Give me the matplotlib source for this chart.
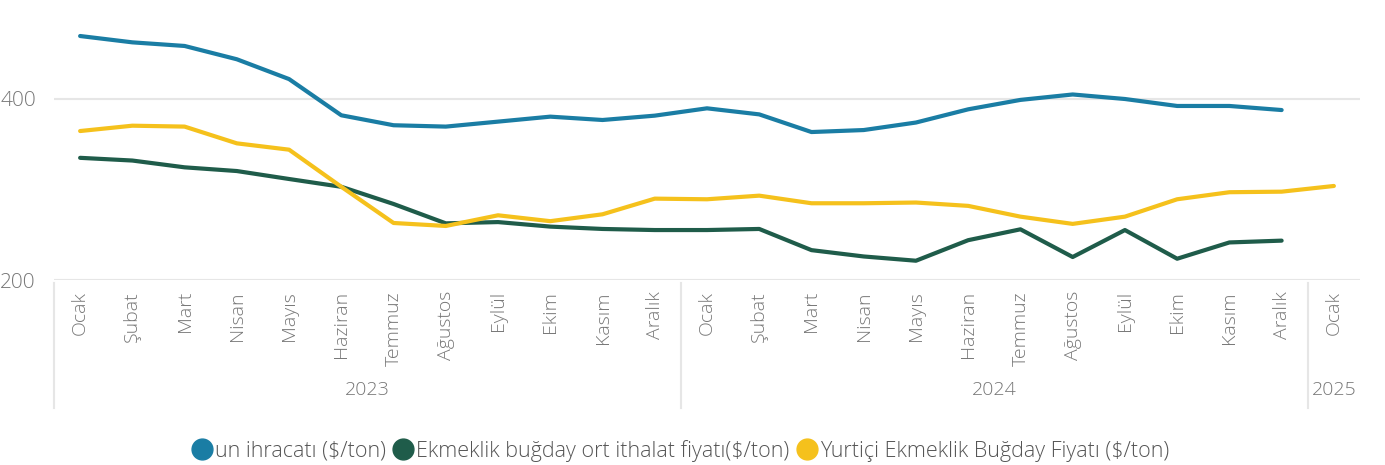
import matplotlib.pyplot as plt
from matplotlib.lines import Line2D
from matplotlib.transforms import blended_transform_factory

months = ["Ocak", "Şubat", "Mart", "Nisan", "Mayıs", "Haziran", "Temmuz",
          "Ağustos", "Eylül", "Ekim", "Kasım", "Aralık"]
tick_labels = months + months + ["Ocak"]
years = ["2023", "2024", "2025"]
year_counts = [12, 12, 1]

un_ihracati = [469.6, 462.6, 458.6, 443.9, 422.0, 382.0, 371.0, 369.5, 375.0, 380.5, 376.8, 381.6,
               389.7, 383.0, 363.5, 365.7, 374.0, 388.6, 399.0, 405.0, 400.0, 392.3, 392.3, 387.8]
ithalat = [335.0, 332.0, 324.5, 320.4, 311.6, 303.0, 284.0, 262.6, 264.0, 259.0, 256.4, 255.2,
           255.2, 256.4, 233.0, 226.0, 221.3, 244.0, 256.0, 225.4, 255.2, 223.5, 241.5, 243.5]
yurtici = [364.6, 370.5, 369.5, 351.0, 344.0, 303.0, 263.0, 259.7, 271.5, 265.0, 272.6, 289.9,
           289.2, 293.2, 284.8, 284.8, 285.6, 281.9, 270.0, 262.0, 270.0, 289.2, 297.0, 297.6,
           303.9]

series = [
    ("un ihracatı ($/ton)", un_ihracati, "#1A7DA4"),
    ("Ekmeklik buğday ort ithalat fiyatı($/ton)", ithalat, "#1F5C4A"),
    ("Yurtiçi Ekmeklik Buğday Fiyatı ($/ton)", yurtici, "#F5C11C"),
]

plt.rcParams["font.family"] = ["Open Sans", "DejaVu Sans"]
plt.rcParams["font.weight"] = "light"
text_color = "#777777"
grid_color = "#e6e6e6"

fig = plt.figure(figsize=(13.85, 4.65), dpi=100)
W, H = 1385, 465
ax = fig.add_axes([54 / W, (H - 280) / H, (1360 - 54) / W, (280 - 8.5) / H])

for label, vals, color in series:
    ax.plot(range(len(vals)), vals, color=color, lw=3, solid_capstyle="round",
            solid_joinstyle="round", label=label, zorder=3)

ax.set_xlim(-0.5, len(tick_labels) - 0.5)
ax.set_ylim(200, 500)
ax.set_yticks([200, 400])
ax.set_yticklabels(["200", "400"], fontsize=15, color=text_color)
ax.yaxis.grid(True, color=grid_color, lw=1.5)
ax.set_axisbelow(True)
ax.tick_params(axis="y", length=0, pad=13)

ax.set_xticks(range(len(tick_labels)))
ax.set_xticklabels(tick_labels, rotation=90, fontsize=14, color=text_color, va="top")
ax.tick_params(axis="x", length=0, pad=8)

for s in ax.spines.values():
    s.set_visible(False)

# year group labels and separators
trans = blended_transform_factory(ax.transData, ax.transAxes)
start = -0.5
ax.plot([start, start], [-0.01, -0.47], transform=trans, color=grid_color, lw=1.5, clip_on=False)
for yr, n in zip(years, year_counts):
    end = start + n
    ax.text((start + end) / 2, -0.405, yr, transform=trans, ha="center", va="center",
            fontsize=14, color=text_color)
    if yr != years[-1]:
        ax.plot([end, end], [-0.01, -0.47], transform=trans, color=grid_color, lw=1.5,
                clip_on=False)
    start = end

handles = [Line2D([], [], marker="o", ls="", markersize=15, color=c) for _, _, c in series]
fig.legend(handles, [s[0] for s in series], loc="center", bbox_to_anchor=(677 / W, 1 - 451 / H),
           ncol=3, frameon=False, fontsize=15.5, handletextpad=-0.2, columnspacing=0.0,
           handlelength=1.6, labelcolor="#555555")

fig.savefig("out.png", dpi=100)
